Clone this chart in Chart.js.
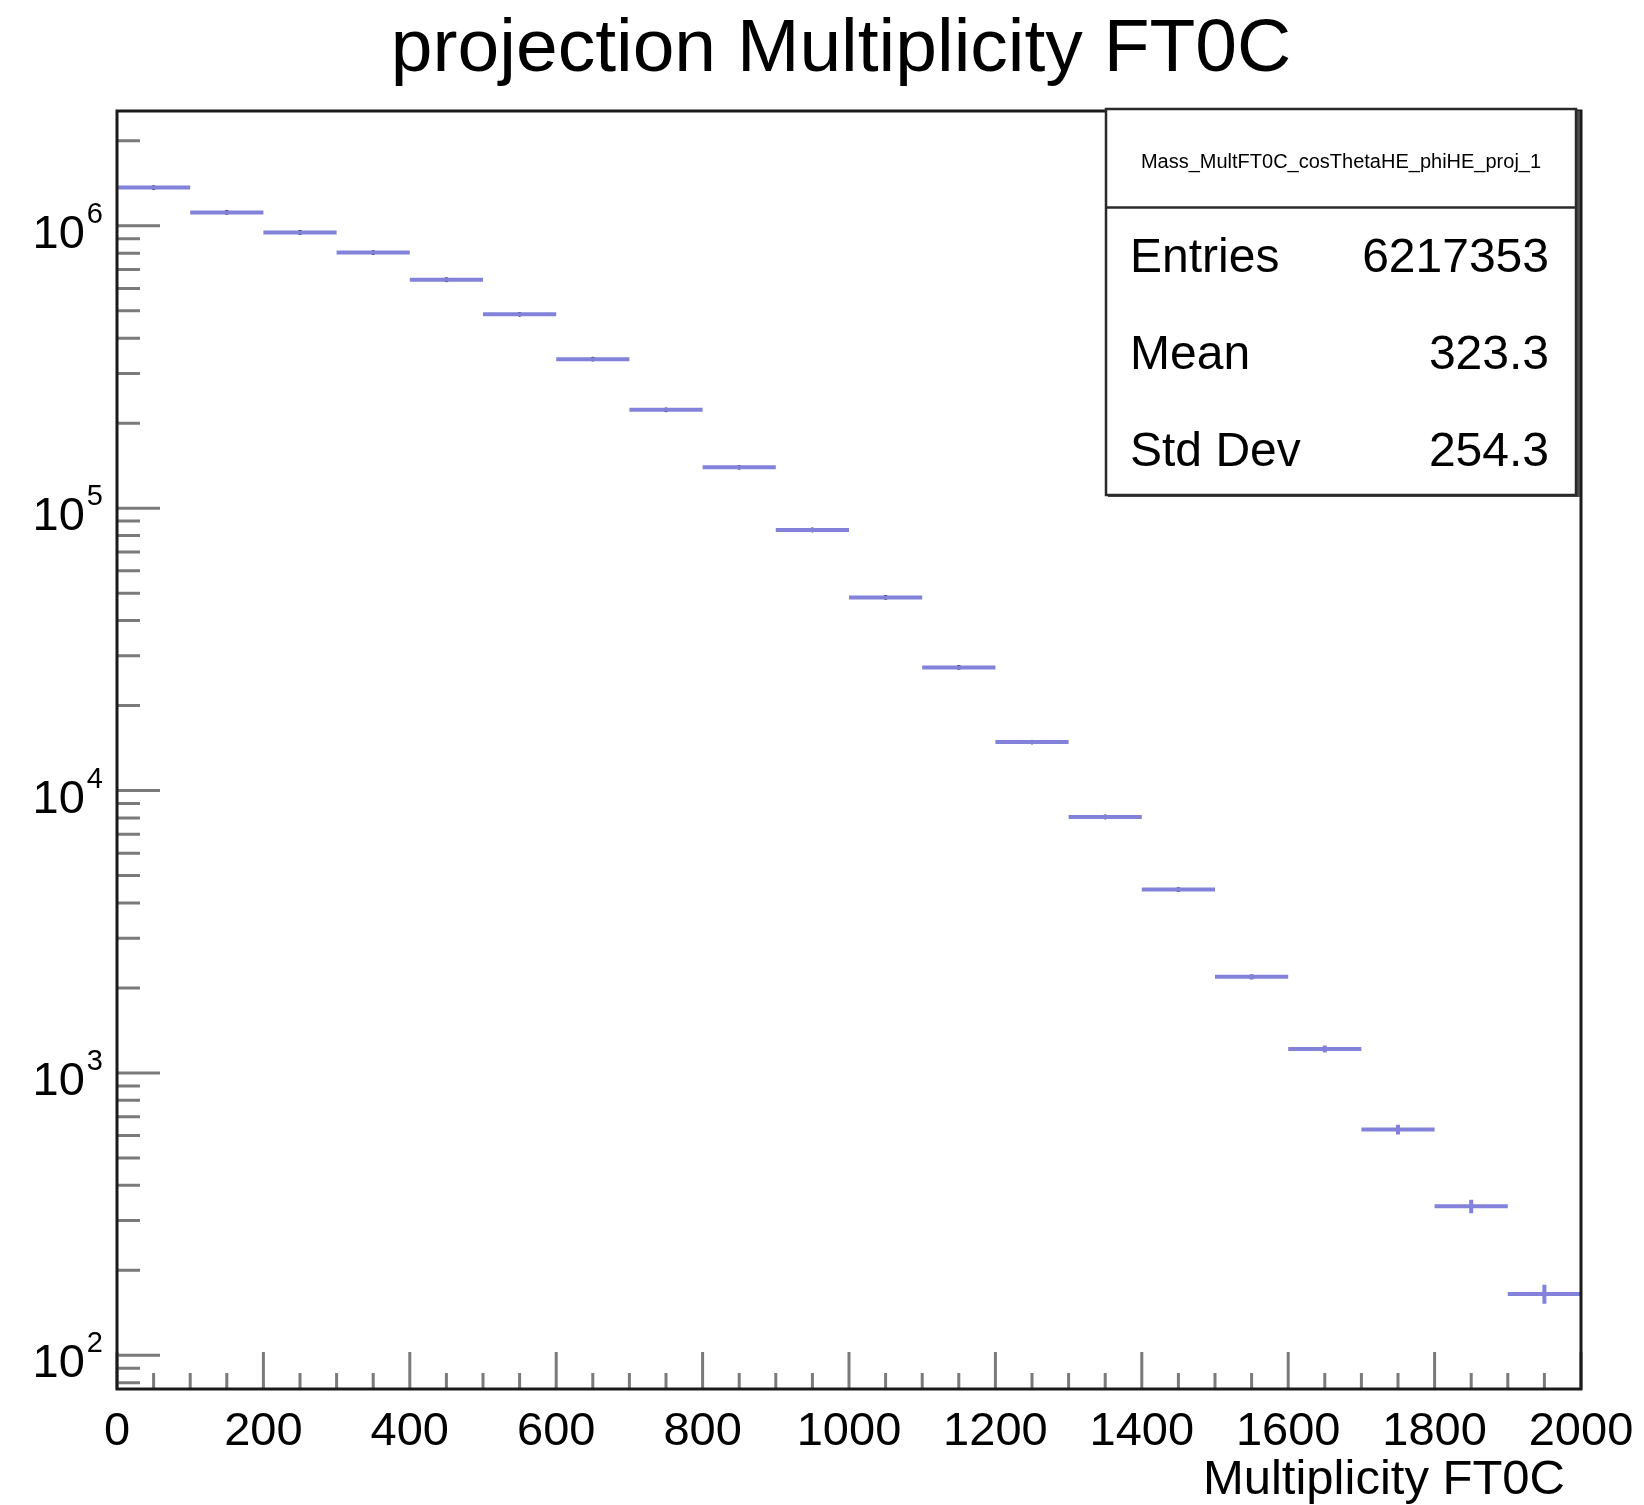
<!DOCTYPE html>
<html>
<head>
<meta charset="utf-8">
<title>projection Multiplicity FT0C</title>
<script src="https://cdn.jsdelivr.net/npm/chart.js@4.4.0/dist/chart.umd.min.js"></script>
<style>
  html, body { margin: 0; padding: 0; background: #fff; }
  canvas { display: block; }
</style>
</head>
<body>
<canvas id="multChart" width="1644" height="1505"></canvas>
<script>
// FT0C multiplicity projection, 20 bins of width 100
var binEdges = [0, 100, 200, 300, 400, 500, 600, 700, 800, 900, 1000,
                1100, 1200, 1300, 1400, 1500, 1600, 1700, 1800, 1900, 2000];
var counts = [1366000, 1115000, 947000, 804000, 644000, 486000, 337000, 223000, 139500, 83700,
              48300, 27300, 14850, 8060, 4460, 2190, 1216, 631, 337, 165];

var xTickLabels = ['0', '200', '400', '600', '800', '1000', '1200', '1400', '1600', '1800', '2000'];
var yDecades = [2, 3, 4, 5, 6];

var histName = 'Mass_MultFT0C_cosThetaHE_phiHE_proj_1';
var statNames = ['Entries', 'Mean', 'Std Dev'];
var statValues = ['6217353', '323.3', '254.3'];

var FONT = '"Liberation Sans", Arial, Helvetica, sans-serif';
var BAR_COLOR = '#8282da';

// flat segment across each bin, vertical sqrt(N) error at the centre, black marker
var binSegments = [];
var errorSegments = [];
var binPoints = [];
counts.forEach(function (n, i) {
    var lo = binEdges[i], hi = binEdges[i + 1], mid = (lo + hi) / 2;
    var err = Math.sqrt(n);
    binSegments.push({x: lo, y: n}, {x: hi, y: n}, {x: hi, y: null});
    errorSegments.push({x: mid, y: n - err}, {x: mid, y: n + err}, {x: mid, y: null});
    binPoints.push({x: mid, y: n});
});

// ROOT-style frame: inside ticks, 10^n labels, stats box, titles
var rootFrame = {
    id: 'rootFrame',
    afterDraw: function (chart) {
        var ctx = chart.ctx, a = chart.chartArea;
        var xs = chart.scales.x, ys = chart.scales.y;
        ctx.save();

        // ticks
        ctx.strokeStyle = '#7a7a7a';
        ctx.lineWidth = 3;
        ctx.beginPath();
        for (var v = xs.min; v <= xs.max; v += 50) {
            var px = xs.getPixelForValue(v);
            var len = (v % 200 === 0) ? 37 : 16;
            ctx.moveTo(px, a.bottom);
            ctx.lineTo(px, a.bottom - len);
        }
        var dLo = Math.floor(Math.log10(ys.min)), dHi = Math.ceil(Math.log10(ys.max));
        for (var d = dLo; d <= dHi; d++) {
            for (var m = 1; m <= 9; m++) {
                var val = m * Math.pow(10, d);
                if (val < ys.min || val > ys.max) continue;
                var py = ys.getPixelForValue(val);
                ctx.moveTo(a.left, py);
                ctx.lineTo(a.left + (m === 1 ? 43 : 23), py);
            }
        }
        ctx.stroke();

        // frame
        ctx.strokeStyle = '#1a1a1a';
        ctx.lineWidth = 3;
        ctx.strokeRect(a.left, a.top, a.right - a.left, a.bottom - a.top);

        ctx.fillStyle = '#000';

        // x labels
        ctx.font = '47px ' + FONT;
        ctx.textAlign = 'center';
        ctx.textBaseline = 'alphabetic';
        xTickLabels.forEach(function (lab) {
            ctx.fillText(lab, xs.getPixelForValue(Number(lab)), a.bottom + 56);
        });

        // y labels as 10 with superscript exponent
        yDecades.forEach(function (d) {
            var py = ys.getPixelForValue(Math.pow(10, d));
            var right = a.left - 14;
            ctx.font = '29px ' + FONT;
            var wSup = ctx.measureText(String(d)).width;
            ctx.textAlign = 'left';
            ctx.fillText(String(d), right - wSup, py - 3);
            ctx.font = '47px ' + FONT;
            ctx.textAlign = 'right';
            ctx.fillText('10', right - wSup - 2, py + 22);
        });

        // titles
        ctx.font = '75px ' + FONT;
        ctx.textAlign = 'center';
        ctx.fillText('projection Multiplicity FT0C', (a.left + a.right) / 2 - 8, 71);
        ctx.font = '49px ' + FONT;
        ctx.textAlign = 'right';
        ctx.fillText('Multiplicity FT0C', a.right - 16, 1494);

        // stats box
        var bx1 = 1106, bx2 = 1576, by1 = 109, by2 = 495;
        ctx.fillStyle = '#4a4a4a';
        ctx.fillRect(bx1 + 2, by1 + 2, bx2 - bx1 + 2, by2 - by1);
        ctx.fillStyle = '#fff';
        ctx.fillRect(bx1, by1, bx2 - bx1, by2 - by1);
        ctx.strokeStyle = '#2a2a2a';
        ctx.lineWidth = 2.5;
        ctx.strokeRect(bx1, by1, bx2 - bx1, by2 - by1);
        ctx.beginPath();
        ctx.moveTo(bx1, 207.5);
        ctx.lineTo(bx2, 207.5);
        ctx.stroke();

        ctx.fillStyle = '#000';
        ctx.font = '20px ' + FONT;
        ctx.textAlign = 'center';
        ctx.fillText(histName, (bx1 + bx2) / 2, 168);

        var rowBase = [272, 369, 466];
        ctx.font = '48px ' + FONT;
        statNames.forEach(function (name, i) {
            ctx.textAlign = 'left';
            ctx.fillText(name, 1130, rowBase[i]);
            ctx.textAlign = 'right';
            ctx.fillText(statValues[i], 1549, rowBase[i]);
        });

        ctx.restore();
    }
};

new Chart(document.getElementById('multChart').getContext('2d'), {
    type: 'scatter',
    data: {
        datasets: [{
            data: binSegments,
            showLine: true,
            borderColor: BAR_COLOR,
            borderWidth: 4,
            borderCapStyle: 'butt',
            pointRadius: 0
        }, {
            data: errorSegments,
            showLine: true,
            borderColor: BAR_COLOR,
            borderWidth: 4,
            borderCapStyle: 'butt',
            pointRadius: 0
        }, {
            data: binPoints,
            pointRadius: 2.4,
            pointBorderWidth: 0,
            pointBackgroundColor: '#000'
        }]
    },
    options: {
        responsive: false,
        animation: false,
        devicePixelRatio: 1,
        layout: { padding: { left: 117, right: 63, top: 111, bottom: 116 } },
        plugins: {
            legend: { display: false },
            tooltip: { enabled: false },
            title: { display: false }
        },
        scales: {
            x: { type: 'linear', min: 0, max: 2000, display: false },
            y: { type: 'logarithmic', min: 76, max: 2550000, display: false }
        }
    },
    plugins: [rootFrame]
});
</script>
</body>
</html>
